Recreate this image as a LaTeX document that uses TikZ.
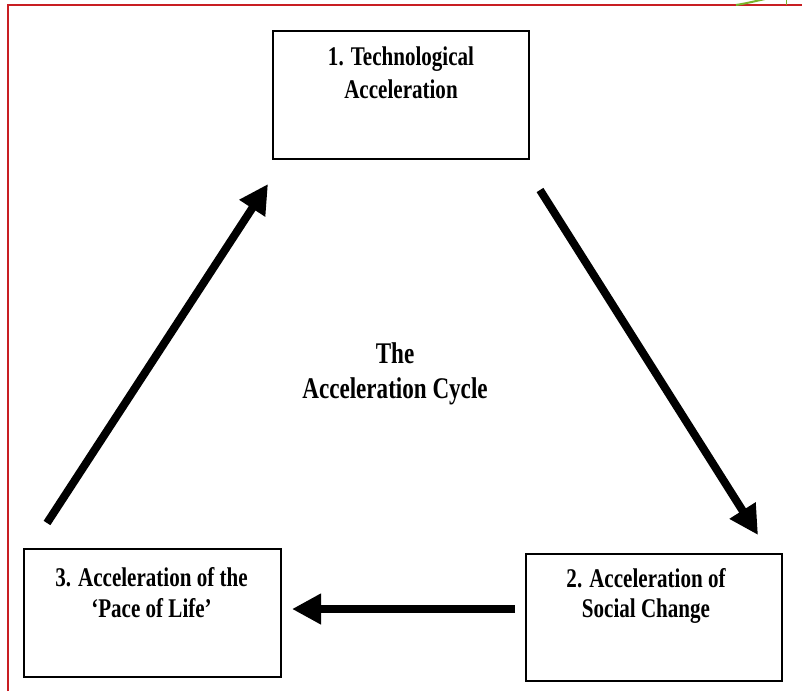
\documentclass[tikz,border=0pt]{standalone}
\usepackage{fontspec}
\setmainfont{Liberation Serif}
\newfontfamily\boxfont{Liberation Serif}[FakeStretch=0.78,Ligatures=TeX]
\newfontfamily\cyclefont{Liberation Serif}[FakeStretch=0.77,Ligatures=TeX]
\usetikzlibrary{arrows.meta}
\definecolor{framered}{RGB}{200,30,35}
\definecolor{leafgreen}{RGB}{120,180,45}
\begin{document}
\begin{tikzpicture}[x=1pt,y=-1pt,
  boxst/.style={draw=black, line width=1.8pt, rectangle, inner sep=0pt},
  lbl/.style={font=\boxfont\bfseries\fontsize{27}{30.5}\selectfont, align=center, inner sep=0pt, anchor=base},
  cyclelbl/.style={font=\cyclefont\bfseries\fontsize{30}{35}\selectfont, align=center, inner sep=0pt, anchor=base},
  bigarrow/.style={line width=8pt, -{Triangle[length=29pt,width=29pt]}}
]
\useasboundingbox (0,0) rectangle (802,691);
\fill[white] (0,0) rectangle (802,691);
% frame
\draw[framered, line width=2pt] (8,691) -- (8,5) -- (802,5);
\draw[leafgreen, line width=2pt] (736,5) .. controls (748,3) and (756,1) .. (765,-1);
\draw[leafgreen, line width=1pt] (786,0) -- (786,5);
% boxes
\node[boxst, minimum width=256pt, minimum height=128pt] (b1) at (401,95) {};
\node[boxst, minimum width=257pt, minimum height=128pt] (b3) at (152.5,613) {};
\node[boxst, minimum width=256pt, minimum height=127pt] (b2) at (654,617.5) {};
% labels (anchor base = baseline of last line)
\node[lbl] (t1) at (401,98) {1. Technological\\[2pt]Acceleration};
\node[lbl] (t3) at (151.5,617) {3. Acceleration of the\\‘Pace of Life’};
\node[lbl] (t2) at (646,617.5) {2. Acceleration of\\Social Change};
\node[cyclelbl] (tc) at (395,398) {The\\Acceleration Cycle};
% arrows
\coordinate (a1s) at (47,523);
\coordinate (a1e) at (268,184);
\coordinate (a2s) at (540,190);
\coordinate (a2e) at (758,535);
\coordinate (a3s) at (515,609);
\coordinate (a3e) at (292,609);
\draw[bigarrow] (a1s) -- (a1e);
\draw[bigarrow] (a2s) -- (a2e);
\draw[bigarrow] (a3s) -- (a3e);
\end{tikzpicture}
\end{document}
